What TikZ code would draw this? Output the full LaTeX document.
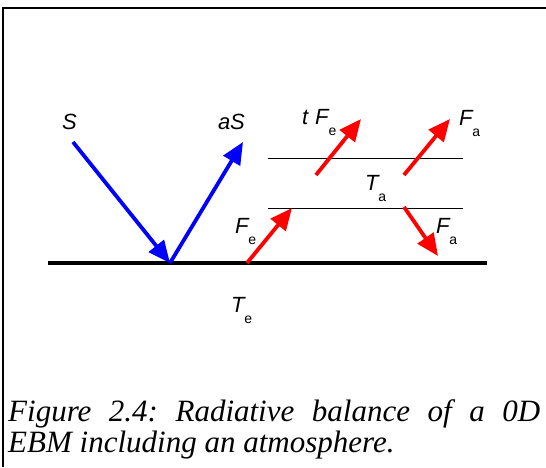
\documentclass[tikz,border=0pt]{standalone}
\usepackage{fontspec}
\setmainfont{Liberation Serif}
\newfontfamily\labfont{Liberation Sans}
\usetikzlibrary{arrows.meta}
\frenchspacing
\newcommand{\lbl}[2]{{\labfont\fontsize{22}{22}\selectfont\itshape #1}{\labfont\fontsize{14}{14}\selectfont\raisebox{-11pt}{#2}}}
\tikzset{
  lab/.style={anchor=base west, inner sep=0pt, outer sep=0pt},
  ray/.style={line width=3.8pt, -{Triangle[length=22pt,width=19pt]}},
  sw/.style={ray, draw=blue, fill=blue},
  lw/.style={ray, draw=red, fill=red},
  captext/.style={anchor=base west, inner sep=0pt, font=\itshape\fontsize{31}{31}\selectfont}
}
\begin{document}
\begin{tikzpicture}[x=1pt,y=-1pt]
\useasboundingbox (0,0) rectangle (546,467);
% frame
\draw[line width=2pt] (546,8) -- (3,8) -- (3,467);
% ground and atmosphere
\coordinate (g1) at (48,263); \coordinate (g2) at (487,263);
\draw[line width=4pt] (g1) -- (g2);
\coordinate (at1) at (268,158); \coordinate (at2) at (463,158);
\coordinate (ab1) at (268,208); \coordinate (ab2) at (463,208);
\draw[line width=1pt] (at1) -- (at2);
\draw[line width=1pt] (ab1) -- (ab2);
% shortwave
\coordinate (s0) at (73,142); \coordinate (p) at (170,263); \coordinate (as1) at (243,142);
\draw[sw] (s0) -- (p);
\draw[sw] (p) -- (as1);
% longwave
\coordinate (fe0) at (247,263); \coordinate (fe1) at (292,208);
\draw[lw] (fe0) -- (fe1);
\coordinate (tf0) at (316,175); \coordinate (tf1) at (361,119);
\draw[lw] (tf0) -- (tf1);
\coordinate (fu0) at (404,175); \coordinate (fu1) at (450,119);
\draw[lw] (fu0) -- (fu1);
\coordinate (fd0) at (404,207); \coordinate (fd1) at (438,256);
\draw[lw] (fd0) -- (fd1);
% labels
\node[lab] (lS) at (62,129) {\lbl{S}{}};
\node[lab] (laS) at (218,129) {\lbl{aS}{}};
\node[lab] (ltF) at (302,124) {\lbl{t\hspace{7pt}F}{e}};
\node[lab] (lFau) at (459,125) {\lbl{F}{a}};
\node[lab] (lTa) at (365,190) {\lbl{T}{a}};
\node[lab] (lFe) at (235,233) {\lbl{F}{e}};
\node[lab] (lFad) at (436,233) {\lbl{F}{a}};
\node[lab] (lTe) at (231,312) {\lbl{T}{e}};
% caption
\node[captext] (c1) at (8,421) {\makebox[532pt][s]{Figure 2.4: Radiative balance of a 0D}};
\node[captext] (c2) at (8,452) {EBM including an atmosphere.};
\end{tikzpicture}
\end{document}
